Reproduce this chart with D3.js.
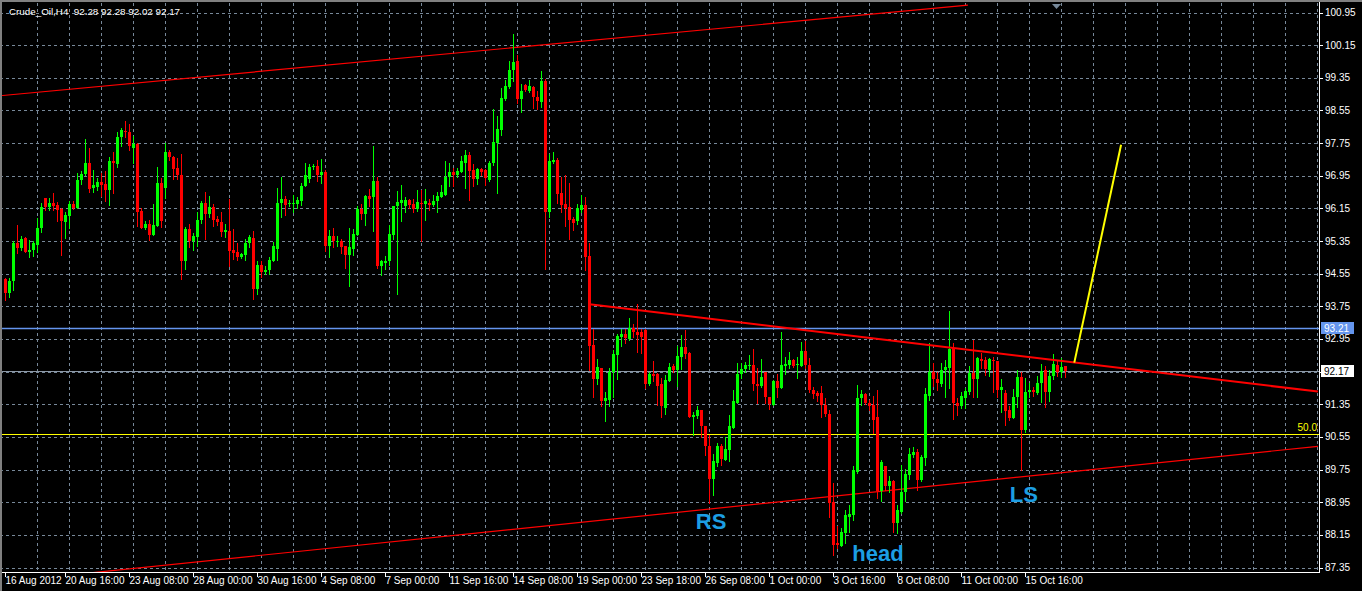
<!DOCTYPE html>
<html><head><meta charset="utf-8">
<script src="https://cdn.jsdelivr.net/npm/d3@7"></script>
<style>
html,body{margin:0;padding:0;background:#000;overflow:hidden}
svg{display:block}
text{font-family:"Liberation Sans",Arial,sans-serif}
</style></head><body>
<svg id="c" width="1362" height="591"></svg>
<script>
const symbol = "Crude_Oil,H4";
const opens = [94.42,94.07,94.36,95.30,95.17,95.43,95.09,95.12,95.26,95.66,96.40,96.18,96.28,96.24,96.13,95.82,95.97,96.26,96.15,96.85,96.99,97.27,96.65,96.67,96.80,96.75,96.61,97.32,97.24,97.90,98.05,98.03,97.64,97.73,96.09,95.68,95.76,95.50,95.73,96.78,96.66,97.54,97.41,97.14,96.97,94.85,95.65,95.34,95.46,95.87,96.29,96.02,96.19,95.89,95.82,95.56,95.60,95.14,95.09,94.95,95.01,95.30,95.42,94.18,94.77,94.59,94.65,94.87,95.16,96.28,96.38,96.25,96.28,96.26,96.32,96.69,96.87,97.16,97.20,96.97,97.05,95.22,95.48,95.34,95.36,95.22,95.00,95.16,95.50,96.14,96.02,96.46,96.42,96.83,94.73,94.82,94.85,95.50,96.20,96.28,96.22,96.36,96.25,96.14,96.29,96.25,96.29,96.24,96.32,96.44,96.48,96.91,97.05,96.96,97.05,97.27,97.46,97.10,96.87,97.11,97.10,96.85,97.26,97.75,98.08,98.83,99.12,99.53,99.77,98.83,99.18,99.03,99.12,98.87,98.75,99.28,96.07,97.28,97.34,96.52,96.26,96.18,95.89,95.83,96.12,96.24,94.99,92.81,91.97,92.24,91.44,91.46,92.14,92.56,93.01,93.08,92.95,93.22,93.13,93.11,93.18,91.85,92.10,92.10,91.85,91.27,91.91,92.28,92.20,92.52,92.75,92.60,91.03,91.07,91.21,90.82,90.32,89.52,89.92,90.33,89.99,90.24,90.78,91.39,92.10,92.21,92.28,92.32,91.85,91.80,92.15,91.54,91.34,91.93,91.76,92.29,92.30,92.44,92.30,92.28,92.66,92.32,91.71,91.62,91.62,91.34,91.12,88.95,87.95,87.88,88.19,88.59,88.64,89.70,91.50,91.61,91.39,91.34,91.03,89.23,89.84,89.35,89.46,88.45,88.72,89.19,89.62,90.11,90.19,89.50,90.03,91.56,92.15,91.97,91.85,92.18,92.24,92.74,91.38,91.30,91.50,91.66,92.11,91.97,92.46,92.44,92.20,92.44,92.42,91.71,91.62,91.21,91.01,91.53,92.02,90.72,91.66,91.71,91.62,91.87,92.18,91.64,92.05,92.32,92.15,92.28];
const highs = [94.44,94.44,95.34,95.75,95.48,95.46,95.38,95.36,95.91,96.28,96.40,96.40,96.52,96.30,96.15,96.07,96.32,96.34,97.01,97.07,97.85,97.64,97.10,96.89,97.01,97.07,97.40,97.54,98.01,98.12,98.30,98.22,97.93,97.75,96.15,95.85,95.87,96.26,97.17,96.89,97.75,97.59,97.44,97.38,97.49,95.69,95.77,95.54,96.07,96.34,96.54,96.46,96.25,95.97,96.07,95.77,96.38,95.65,95.30,95.05,95.40,95.50,95.60,94.87,94.85,94.73,94.95,95.32,96.65,96.92,96.46,96.36,96.48,96.44,96.78,97.27,97.24,97.24,97.34,97.36,97.10,95.63,95.67,95.48,95.40,95.23,95.67,95.65,96.21,96.25,96.48,96.62,97.68,96.92,94.89,94.99,95.75,96.22,96.58,96.73,96.42,96.38,96.38,96.61,96.61,96.63,96.38,96.48,96.56,96.73,97.32,97.27,97.15,97.15,97.44,97.59,97.52,97.24,97.15,97.15,97.11,97.30,98.59,98.42,99.10,99.30,99.75,100.43,99.91,99.20,99.19,99.30,99.15,99.03,99.52,99.32,97.48,97.54,97.38,96.93,96.96,96.77,95.94,96.26,96.47,96.43,95.30,93.20,92.46,92.24,91.65,92.24,92.69,93.07,93.20,93.20,93.46,93.31,93.81,93.19,93.19,92.13,92.40,92.11,91.99,92.07,92.36,92.34,92.77,93.05,93.18,92.64,91.15,91.31,91.21,90.82,90.60,90.13,90.40,90.38,90.54,91.09,91.71,92.37,92.37,92.38,92.56,92.70,92.24,92.46,92.15,91.54,91.95,92.09,93.13,92.52,92.62,92.46,92.51,92.87,92.91,92.48,91.77,91.68,91.80,91.50,91.20,89.42,88.36,88.32,88.75,88.89,89.83,91.83,91.71,91.62,91.46,91.56,91.69,89.99,89.84,89.58,89.50,88.89,89.87,89.76,90.28,90.30,90.25,90.11,91.75,92.85,92.37,92.15,92.36,92.44,93.64,92.85,91.50,91.64,91.76,92.29,92.93,92.51,92.60,92.51,92.48,92.51,92.42,91.97,91.71,91.31,91.72,92.18,92.13,91.99,91.88,91.77,92.05,92.33,92.29,92.20,92.59,92.44,92.48,92.28];
const lows = [93.91,93.98,94.16,95.05,95.12,95.09,94.97,94.99,95.07,95.56,96.12,96.12,96.12,95.85,95.01,95.42,95.67,96.14,96.15,96.75,96.96,96.54,96.56,96.61,96.46,96.34,96.24,96.52,97.16,97.69,97.91,97.57,97.27,95.72,95.68,95.65,95.38,95.50,95.73,95.69,96.40,97.34,96.87,96.88,94.42,94.66,95.20,95.12,95.23,95.79,95.41,95.95,95.71,95.75,95.48,95.44,94.75,94.91,94.89,94.93,94.89,95.20,93.93,94.06,94.48,94.55,94.55,94.87,94.89,95.95,95.99,96.20,96.05,96.16,96.24,96.69,96.79,97.12,96.81,96.78,95.11,94.97,95.20,95.22,95.05,94.68,94.24,95.00,95.50,95.89,95.75,96.22,95.60,94.70,94.52,94.67,94.77,95.40,94.06,95.85,96.07,96.16,96.05,96.09,95.36,95.87,96.12,96.20,96.07,96.42,96.48,96.69,96.69,96.93,97.04,96.65,96.36,96.70,96.75,96.97,96.73,96.83,97.22,96.52,97.95,98.81,99.10,99.28,98.74,98.50,99.03,99.00,98.62,98.58,98.63,94.67,95.95,97.26,96.28,96.05,95.71,95.40,95.63,95.76,96.07,94.63,92.20,91.54,91.85,91.30,90.93,91.30,91.52,91.97,92.77,92.85,92.93,92.99,92.64,92.60,91.75,91.81,91.93,91.34,91.03,91.12,91.91,92.15,91.79,92.21,92.48,91.03,90.59,91.01,90.56,90.10,88.93,89.12,89.83,89.85,89.99,89.97,90.78,91.39,91.99,92.15,92.21,91.69,91.38,91.77,91.38,91.24,91.32,91.52,91.76,92.09,92.24,92.26,91.99,92.28,92.24,91.65,91.50,91.44,91.03,91.07,88.59,87.66,87.83,87.88,87.96,88.23,88.52,89.66,91.32,91.36,91.21,90.64,89.05,88.97,89.24,89.21,88.23,88.19,88.68,88.99,89.52,90.07,89.26,89.46,89.87,91.46,91.79,91.69,91.79,91.54,91.76,91.00,91.09,91.26,91.26,91.61,91.54,91.54,92.25,92.07,92.05,91.64,91.54,91.15,90.85,90.97,91.01,91.28,89.74,90.66,91.54,91.56,91.61,91.40,91.28,91.44,91.97,92.05,92.02,92.02];
const closes = [94.07,94.36,95.30,95.17,95.40,95.09,95.14,95.30,95.67,96.18,96.18,96.28,96.21,96.12,95.83,95.99,96.26,96.16,96.85,96.99,97.27,96.63,96.73,96.80,96.72,96.61,97.32,97.26,97.91,98.08,98.01,97.67,97.72,96.07,95.68,95.76,95.50,95.75,96.78,95.85,97.54,97.40,97.12,96.96,94.85,95.65,95.34,95.48,95.87,96.29,96.02,96.19,95.87,95.82,95.58,95.61,95.11,95.05,94.95,95.04,95.30,95.45,94.18,94.77,94.59,94.65,94.89,95.22,96.28,96.38,96.24,96.29,96.29,96.36,96.70,96.96,97.16,97.20,96.97,97.03,95.22,95.48,95.34,95.36,95.20,95.00,95.20,95.53,96.14,96.02,96.46,96.38,96.83,94.74,94.87,94.87,95.53,96.20,96.30,96.36,96.36,96.24,96.14,96.31,96.25,96.32,96.24,96.34,96.46,96.54,96.92,97.05,96.97,97.07,97.32,97.46,97.07,96.87,97.11,97.05,96.89,97.26,97.77,98.10,98.85,99.15,99.55,99.73,98.83,99.03,99.06,99.15,98.87,98.77,99.28,96.07,97.32,97.34,96.51,96.24,96.16,95.87,95.79,96.16,96.24,94.97,92.78,91.97,92.26,91.44,91.50,92.15,92.59,93.03,93.08,92.97,93.22,93.11,93.05,93.00,91.85,92.10,92.05,91.80,91.30,91.95,92.26,92.20,92.54,92.75,92.59,91.03,91.09,91.21,90.81,90.32,89.52,89.97,90.33,90.01,90.26,90.81,91.42,92.10,92.22,92.32,92.32,91.85,91.79,92.02,91.52,91.36,91.93,91.76,92.32,92.33,92.44,92.28,92.33,92.66,92.32,91.69,91.61,91.56,91.34,91.12,88.93,87.91,87.91,88.21,88.64,88.67,89.73,91.50,91.61,91.38,91.31,90.97,89.23,89.93,89.35,89.46,88.45,88.75,89.21,89.65,90.14,90.19,89.50,90.05,91.61,92.15,91.97,91.87,92.20,92.26,92.70,91.38,91.30,91.56,91.68,92.11,91.97,92.48,92.42,92.22,92.46,92.40,91.71,91.77,91.19,91.01,91.54,92.02,90.72,91.66,91.69,91.64,91.88,92.17,91.66,92.05,92.33,92.13,92.26,92.17];
const timeLabels = ["16 Aug 2012","20 Aug 16:00","23 Aug 08:00","28 Aug 00:00","30 Aug 16:00","4 Sep 08:00","7 Sep 00:00","11 Sep 16:00","14 Sep 08:00","19 Sep 00:00","23 Sep 18:00","26 Sep 08:00","1 Oct 00:00","3 Oct 16:00","8 Oct 08:00","11 Oct 00:00","15 Oct 16:00"];
const timeLabelBars = [0,15,31,47,63,79,95,111,127,143,159,175,191,207,223,239,255];
const priceTicks = [100.95,100.15,99.35,98.55,97.75,96.95,96.15,95.35,94.55,93.75,92.95,92.15,91.35,90.55,89.75,88.95,88.15,87.35];
const askPrice = 93.21;
const bidPrice = 92.17;
const fibLevel = 90.62, fibLabel = "50.0";
const upperChannelBars = [-1.375, 240.6], upperChannelPrices = [98.91, 101.13];
const lowerChannelBars = [-1.375, 328.1], lowerChannelPrices = [86.99, 90.32];
const necklineBars = [146, 328.1], necklinePrices = [93.80, 91.66];
const targetBars = [267.2, 278.9], targetPrices = [92.37, 97.71];
const patternLabels = ["RS","head","LS"];
const patternBars = [176.4, 218.1, 254.6];
const patternPrices = [88.29, 87.51, 88.96];

const W = 1362, H = 591, plotR = 1319, plotB = 572;
const svg = d3.select("#c");
const n = opens.length;
const x = d3.scaleLinear().domain([0, 1]).range([5.5, 9.5]);
const y = d3.scaleLinear().domain([87.35, 100.95]).range([567.5, 12.5]);

svg.append("rect").attr("width", W).attr("height", H).attr("fill", "#000");
svg.append("defs").append("clipPath").attr("id", "plot")
  .append("rect").attr("x", 0).attr("y", 3).attr("width", plotR).attr("height", plotB - 3);

// grid
const grid = svg.append("g").attr("stroke", "#778899").attr("stroke-dasharray", "3,3").attr("shape-rendering", "crispEdges");
grid.selectAll("line.h").data(priceTicks).join("line")
  .attr("x1", 0).attr("x2", plotR).attr("y1", d => Math.round(y(d)) + 0.5).attr("y2", d => Math.round(y(d)) + 0.5);
const vb = d3.range(8, 330, 8);
grid.selectAll("line.v").data(vb).join("line")
  .attr("x1", d => Math.floor(x(d)) + 0.5).attr("x2", d => Math.floor(x(d)) + 0.5).attr("y1", 3).attr("y2", plotB);

const plot = svg.append("g").attr("clip-path", "url(#plot)");

// horizontal levels
plot.append("line").attr("x1", 0).attr("x2", plotR).attr("y1", Math.round(y(askPrice)) + 0.5).attr("y2", Math.round(y(askPrice)) + 0.5)
  .attr("stroke", "#6495ED").attr("stroke-width", 1.5);
plot.append("line").attr("x1", 0).attr("x2", plotR).attr("y1", Math.round(y(bidPrice)) + 0.5).attr("y2", Math.round(y(bidPrice)) + 0.5)
  .attr("stroke", "#8c98a6").attr("stroke-width", 1);
plot.append("line").attr("x1", 0).attr("x2", plotR).attr("y1", Math.round(y(fibLevel)) + 0.5).attr("y2", Math.round(y(fibLevel)) + 0.5)
  .attr("stroke", "#ffff00").attr("stroke-width", 1.2);
svg.append("text").attr("x", plotR - 2).attr("y", y(fibLevel) - 3).attr("text-anchor", "end")
  .attr("fill", "#ffff00").attr("font-size", 10).text(fibLabel);

// trendlines
function tl(bars, prices, color, w) {
  plot.append("line").attr("x1", x(bars[0])).attr("y1", y(prices[0])).attr("x2", x(bars[1])).attr("y2", y(prices[1]))
    .attr("stroke", color).attr("stroke-width", w);
}
tl(upperChannelBars, upperChannelPrices, "#ff0000", 1.2);
tl(lowerChannelBars, lowerChannelPrices, "#ff0000", 1.2);

// candles
const idx = d3.range(n);
const cg = plot.append("g").attr("shape-rendering", "crispEdges");
const col = i => closes[i] >= opens[i] ? "#00ff00" : "#ff0000";
cg.selectAll("line.w").data(idx).join("line")
  .attr("x1", i => Math.floor(x(i)) + 0.5).attr("x2", i => Math.floor(x(i)) + 0.5)
  .attr("y1", i => Math.round(y(highs[i]))).attr("y2", i => Math.round(y(lows[i])) + 1)
  .attr("stroke", col);
cg.selectAll("rect.b").data(idx).join("rect")
  .attr("x", i => Math.floor(x(i)) - 1).attr("width", 3)
  .attr("y", i => Math.round(y(Math.max(opens[i], closes[i]))))
  .attr("height", i => Math.max(1, Math.round(y(Math.min(opens[i], closes[i]))) - Math.round(y(Math.max(opens[i], closes[i])))))
  .attr("fill", col);

tl(necklineBars, necklinePrices, "#ff0000", 2);
tl(targetBars, targetPrices, "#ffff00", 2);

// pattern labels
svg.selectAll("text.pat").data(patternLabels).join("text")
  .attr("x", (d, i) => x(patternBars[i])).attr("y", (d, i) => y(patternPrices[i]))
  .attr("fill", "#1c9ee3").attr("font-size", 22).attr("font-weight", "bold")
  .attr("text-anchor", "middle").text(d => d);

// frame
svg.append("rect").attr("x", 0).attr("y", 0).attr("width", W).attr("height", 2).attr("fill", "#808080");
svg.append("rect").attr("x", 0).attr("y", 0).attr("width", 2).attr("height", H).attr("fill", "#808080");
svg.append("line").attr("x1", plotR + 0.5).attr("x2", plotR + 0.5).attr("y1", 2).attr("y2", plotB + 1).attr("stroke", "#fff");
svg.append("line").attr("x1", 2).attr("x2", plotR + 1).attr("y1", plotB + 0.5).attr("y2", plotB + 0.5).attr("stroke", "#fff");

// price axis
const pa = svg.append("g");
pa.selectAll("line").data(priceTicks).join("line")
  .attr("x1", plotR + 1).attr("x2", plotR + 4).attr("y1", d => Math.round(y(d)) + 0.5).attr("y2", d => Math.round(y(d)) + 0.5)
  .attr("stroke", "#fff");
pa.selectAll("text").data(priceTicks).join("text")
  .attr("x", plotR + 6).attr("y", d => y(d) + 3.5).attr("fill", "#fff").attr("font-size", 10)
  .text(d => d.toFixed(2));

// price boxes
function box(p, bg, fg) {
  const yy = Math.round(y(p));
  svg.append("rect").attr("x", plotR + 2).attr("y", yy - 6).attr("width", 33).attr("height", 12).attr("fill", bg);
  svg.append("text").attr("x", plotR + 5).attr("y", yy + 3.5).attr("fill", fg).attr("font-size", 10).text(p.toFixed(2));
}
box(askPrice, "#6495ED", "#fff");
box(bidPrice, "#fff", "#000");

// time axis
const ta = svg.append("g");
ta.selectAll("line").data(timeLabelBars).join("line")
  .attr("x1", d => Math.floor(x(d)) + 0.5).attr("x2", d => Math.floor(x(d)) + 0.5).attr("y1", plotB + 1).attr("y2", plotB + 5)
  .attr("stroke", "#fff");
ta.selectAll("text").data(timeLabels).join("text")
  .attr("x", (d, i) => Math.floor(x(timeLabelBars[i])) + 0.5).attr("y", 584).attr("fill", "#fff").attr("font-size", 10)
  .text(d => d);

// shift marker
svg.append("path").attr("d", "M1052,4 L1061,4 L1056.5,9 Z").attr("fill", "#778899");

// header
const last = n - 1;
svg.append("text").attr("x", 9).attr("y", 15).attr("fill", "#fff").attr("font-size", 9.8)
  .text(symbol + "\u00a0\u00a0" + [opens[last], highs[last], lows[last], closes[last]].map(v => v.toFixed(2)).join(" "));
</script></body></html>
